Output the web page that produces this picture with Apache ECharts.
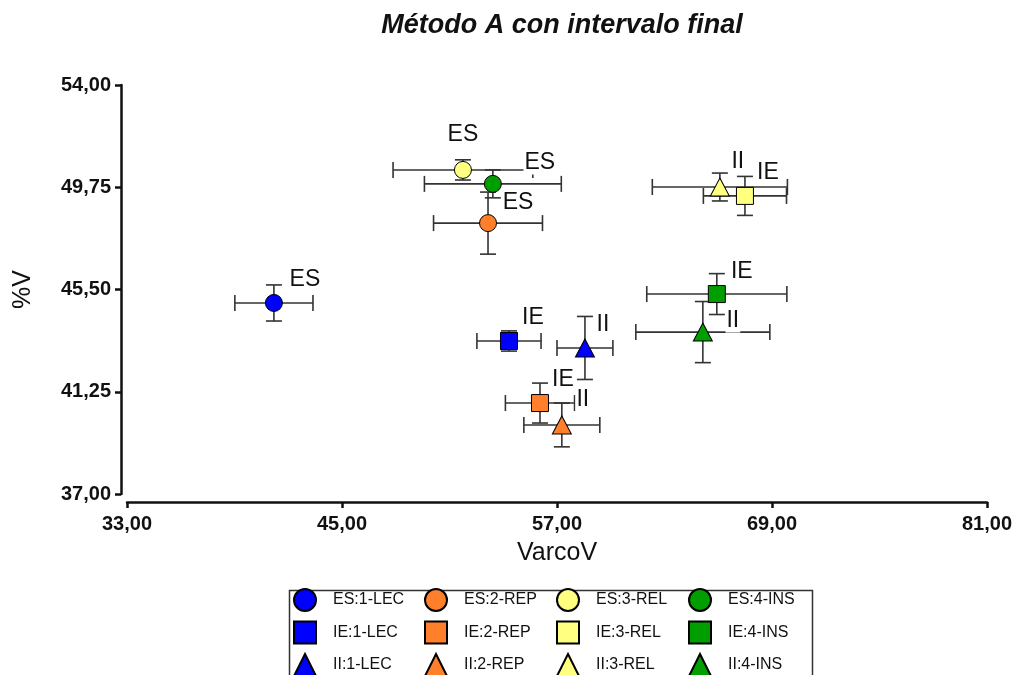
<!DOCTYPE html>
<html>
<head>
<meta charset="utf-8">
<title>Método A con intervalo final</title>
<script src="https://cdn.jsdelivr.net/npm/echarts@6/dist/echarts.min.js"></script>
<style>
  html, body { margin: 0; padding: 0; background: #fff; }
  #chart { width: 1016px; height: 675px; }
</style>
</head>
<body>
<div id="chart"></div>
<script>
// Groups (rows of the legend) and factors (columns of the legend)
const groups = ['ES', 'IE', 'II'];
const factors = ['1-LEC', '2-REP', '3-REL', '4-INS'];

// Mean VarcoV per group (rows) and factor (columns)
const varcoV = [
  [41.20, 53.15, 51.75, 53.42],
  [54.32, 56.05, 67.49, 65.92],
  [58.56, 57.27, 66.09, 65.14]
];
// Mean %V
const pctV = [
  [44.94, 48.26, 50.47, 49.89],
  [43.36, 40.78, 49.39, 45.31],
  [43.07, 39.87, 49.76, 43.73]
];
// Half-width of the final interval on VarcoV
const errVarcoV = [
  [2.18, 3.04, 3.90, 3.82],
  [1.79, 1.93, 2.32, 3.91],
  [1.56, 2.12, 3.77, 3.74]
];
// Half-width of the final interval on %V
const errPctV = [
  [0.75, 1.29, 0.42, 0.58],
  [0.42, 0.83, 0.81, 0.85],
  [1.31, 0.91, 0.58, 1.27]
];

// Axis tick values
const xTicks = [33, 45, 57, 69, 81];
const yTicks = [37, 41.25, 45.5, 49.75, 54];

// Styling
const factorColors = ['#0000ff', '#ff7f2a', '#ffff80', '#009e00'];
const groupSymbols = ['circle', 'rect', 'triangle'];
const groupSymbolSizes = [17, 17, [19, 18]];
// Pixel offsets of each point label from its marker
const labelOffsets = [
  [[31, -23], [30, -20], [0, -35], [47, -21]],
  [[24, -23], [23, -23], [23, -23], [25, -22]],
  [[18, -23], [21, -25], [18, -25], [30, -11]]
];

const FONT = '"Liberation Sans", Arial, sans-serif';
const fmt = v => v.toFixed(2).replace('.', ',');

// Error bars: one item per point -> [x, y, errX, errY]
const errorData = [];
groups.forEach((g, gi) => factors.forEach((f, fi) => {
  errorData.push([varcoV[gi][fi], pctV[gi][fi], errVarcoV[gi][fi], errPctV[gi][fi]]);
}));

const CAP = 8;
function renderErrorBar(params, api) {
  const x = api.value(0), y = api.value(1), ex = api.value(2), ey = api.value(3);
  const c = api.coord([x, y]);
  const l = api.coord([x - ex, y]);
  const r = api.coord([x + ex, y]);
  const t = api.coord([x, y + ey]);
  const b = api.coord([x, y - ey]);
  const style = { stroke: '#333', lineWidth: 1.6, fill: null };
  const line = (x1, y1, x2, y2) => ({ type: 'line', shape: { x1, y1, x2, y2 }, style });
  return {
    type: 'group',
    children: [
      line(l[0], c[1], r[0], c[1]),
      line(l[0], c[1] - CAP, l[0], c[1] + CAP),
      line(r[0], c[1] - CAP, r[0], c[1] + CAP),
      line(c[0], t[1], c[0], b[1]),
      line(c[0] - CAP, t[1], c[0] + CAP, t[1]),
      line(c[0] - CAP, b[1], c[0] + CAP, b[1])
    ]
  };
}

const series = [{
  type: 'custom',
  name: 'intervalos',
  renderItem: renderErrorBar,
  data: errorData,
  encode: { x: 0, y: 1 },
  z: 1,
  silent: true
}];

groups.forEach((g, gi) => factors.forEach((f, fi) => {
  series.push({
    type: 'scatter',
    name: g + ':' + f,
    symbol: groupSymbols[gi],
    symbolSize: groupSymbolSizes[gi],
    z: 3,
    itemStyle: { color: factorColors[fi], borderColor: '#000', borderWidth: 1, opacity: 1 },
    label: {
      show: true,
      formatter: g,
      position: 'inside',
      offset: labelOffsets[gi][fi],
      align: 'center',
      verticalAlign: 'middle',
      color: '#111',
      fontFamily: FONT,
      fontSize: 23,
      backgroundColor: '#fff',
      padding: [0, 1]
    },
    emphasis: { disabled: true },
    data: [[varcoV[gi][fi], pctV[gi][fi]]]
  });
}));

// One vertical legend per factor column
const legendLefts = [293, 424, 556, 688];
const legends = factors.map((f, fi) => ({
  orient: 'vertical',
  left: legendLefts[fi],
  top: 588,
  height: 110,
  padding: 0,
  itemWidth: 22,
  itemHeight: 22,
  itemGap: 8.5,
  selectedMode: false,
  textStyle: { fontFamily: FONT, fontSize: 16, color: '#111', padding: [0, 0, 0, 12] },
  data: groups.map(g => g + ':' + f)
}));

const chart = echarts.init(document.getElementById('chart'), null, { renderer: 'canvas' });
chart.setOption({
  animation: false,
  backgroundColor: '#fff',
  title: {
    text: 'Método A con intervalo final',
    left: 557,
    top: 7,
    textAlign: 'center',
    textStyle: { fontFamily: FONT, fontSize: 27, fontWeight: 'bold', fontStyle: 'italic', color: '#111' }
  },
  legend: legends,
  grid: { left: 127, right: 29, top: 85, bottom: 181, containLabel: false },
  xAxis: {
    type: 'value',
    min: xTicks[0],
    max: xTicks[xTicks.length - 1],
    offset: 8,
    name: 'VarcoV',
    nameLocation: 'middle',
    nameGap: 39,
    nameTextStyle: { fontFamily: FONT, fontSize: 25, color: '#111' },
    axisLine: { show: true, onZero: false, lineStyle: { color: '#111', width: 2.5 } },
    axisTick: { show: true, length: 6, lineStyle: { color: '#111', width: 2.5 }, customValues: xTicks },
    axisLabel: { customValues: xTicks, formatter: fmt, margin: 12, fontFamily: FONT, fontSize: 20, fontWeight: 'bold', color: '#111' },
    splitLine: { show: false }
  },
  yAxis: {
    type: 'value',
    min: yTicks[0],
    max: yTicks[yTicks.length - 1],
    offset: 6,
    name: '%V',
    nameLocation: 'middle',
    nameRotate: 90,
    nameGap: 85,
    nameTextStyle: { fontFamily: FONT, fontSize: 25, color: '#111' },
    axisLine: { show: true, onZero: false, lineStyle: { color: '#111', width: 2.5 } },
    axisTick: { show: true, length: 6, lineStyle: { color: '#111', width: 2.5 }, customValues: yTicks },
    axisLabel: { customValues: yTicks, formatter: fmt, margin: 10, fontFamily: FONT, fontSize: 20, fontWeight: 'bold', color: '#111' },
    splitLine: { show: false }
  },
  graphic: [{
    type: 'rect',
    left: 287,
    top: 588,
    shape: { width: 523, height: 100 },
    style: { fill: null, stroke: '#333', lineWidth: 1.5 },
    silent: true
  }],
  series: series
});
</script>
</body>
</html>
